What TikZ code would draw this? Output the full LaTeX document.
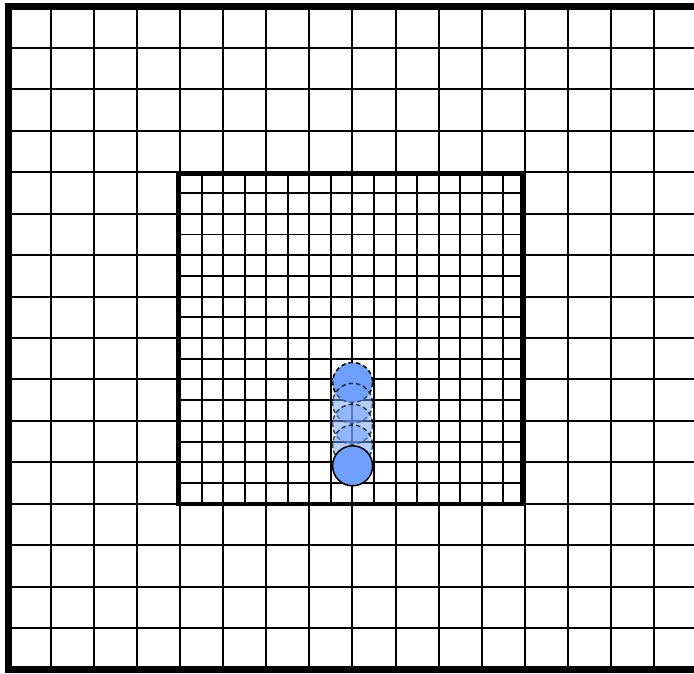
\documentclass[tikz,border=0pt]{standalone}
\definecolor{ballblue}{RGB}{111,160,255}
\tikzset{
  coarse/.style={line width=2pt,black},
  finegrid/.style={line width=1.8pt,black},
  frameouter/.style={line width=7pt,black},
  frameinner/.style={line width=4.5pt,black},
  ballsolid/.style={fill=ballblue,draw=black,line width=1.5pt},
  balldashed/.style={fill=ballblue,draw=black,line width=1.5pt,dash pattern=on 4.5pt off 3pt},
  ballghost/.style={balldashed,fill opacity=0.5,draw opacity=0.7}
}
\begin{document}
\begin{tikzpicture}[x=1pt,y=-1pt]
\useasboundingbox (0,0) rectangle (694,673);
\begin{scope}
\clip (0,0) rectangle (694,673);
% fine grid inside the inner square
\foreach \i in {1,...,15} {
  \draw[finegrid] ({180.2+21.53*\i},172.3) -- ({180.2+21.53*\i},503.8);
  \draw[finegrid] (178,{172.3+20.72*\i}) -- (522,{172.3+20.72*\i});
}
% coarse grid
\foreach \i in {1,...,15} {
  \draw[coarse] ({8+43.06*\i},6.5) -- ({8+43.06*\i},669.5);
  \draw[coarse] (8,{6.5+41.44*\i}) -- (697,{6.5+41.44*\i});
}
% frames
\draw[frameinner] (178,173.3) rectangle (522,503.8);
\draw[frameouter] (8,6.5) rectangle (697,669.5);
% balls
\path[balldashed] (352.6,382.5) circle[radius=20];
\path[ballghost] (352.6,403.3) circle[radius=20];
\path[ballghost] (352.6,424.2) circle[radius=20];
\path[ballghost] (352.6,445.0) circle[radius=20];
\path[ballsolid] (352.6,465.8) circle[radius=20];
\end{scope}
\end{tikzpicture}
\end{document}
